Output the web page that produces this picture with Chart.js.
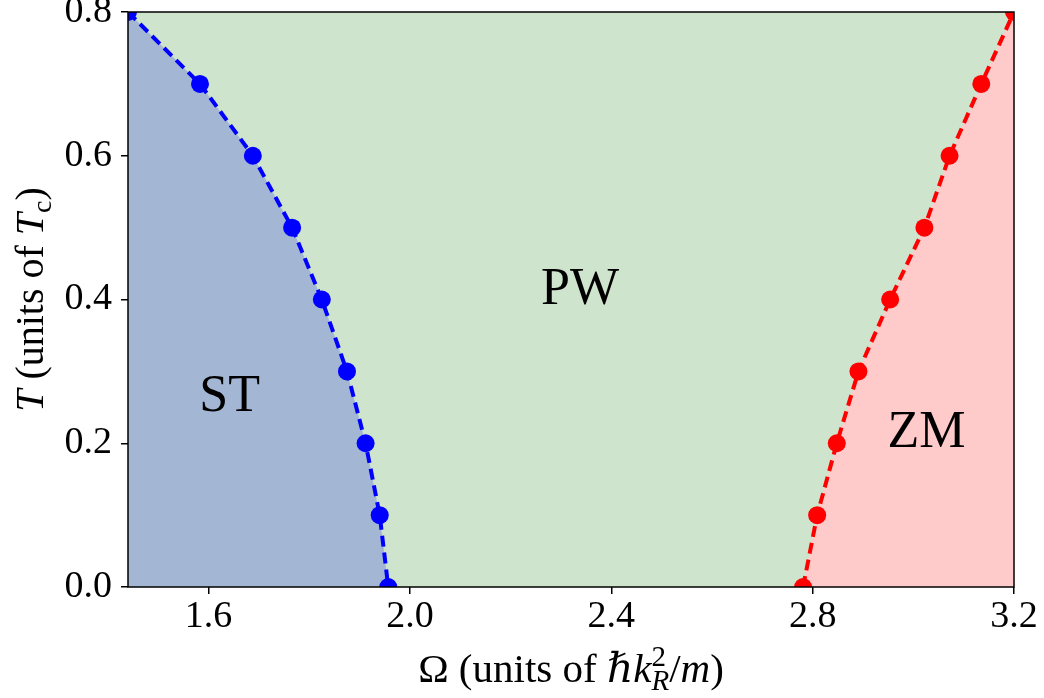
<!DOCTYPE html>
<html>
<head>
<meta charset="utf-8">
<script src="https://cdn.jsdelivr.net/npm/chart.js@4/dist/chart.umd.min.js"></script>
<style>
  html, body { margin: 0; padding: 0; background: #fff; }
  #wrap { width: 1044px; height: 698px; }
</style>
</head>
<body>
<div id="wrap"><canvas id="phaseChart" width="1044" height="698"></canvas></div>
<script>
// phase boundaries
let blueOmega = [1.44, 1.583, 1.688, 1.766, 1.825, 1.875, 1.912, 1.940, 1.957]
let blueT = [0.8, 0.7, 0.6, 0.5, 0.4, 0.3, 0.2, 0.1, 0.0]
let redOmega = [2.781, 2.809, 2.848, 2.891, 2.954, 3.022, 3.072, 3.135, 3.2]
let redT = [0.0, 0.1, 0.2, 0.3, 0.4, 0.5, 0.6, 0.7, 0.8]

let xTicks = [1.6, 2.0, 2.4, 2.8, 3.2]
let yTicks = [0.0, 0.2, 0.4, 0.6, 0.8]

// region labels: text, omega, T
let regionNames = ['ST', 'PW', 'ZM']
let regionOmega = [1.642, 2.338, 3.026]
let regionT = [0.268, 0.418, 0.218]

const FONT = '"Liberation Serif", "DejaVu Serif", serif'
const green = '#cfe4cd'
const blueFill = '#a3b7d5'
const redFill = '#ffcaca'

let toPoints = (xs, ys) => xs.map((x, i) => ({ x: x, y: ys[i] }))

// draws a row of text pieces (italic / sub / sup) centred on x
let drawRich = (ctx, parts, cx, baseY, size) => {
  let small = Math.round(size * 0.7)
  let fontOf = p => (p.italic ? 'italic ' : '') + (p.sub || p.sup ? small : size) + 'px ' + FONT
  let widths = parts.map(p => { ctx.font = fontOf(p); return ctx.measureText(p.t).width })
  let total = 0
  parts.forEach((p, i) => { if (!p.stack) total += widths[i] })
  let x = cx - total / 2
  ctx.textAlign = 'left'
  ctx.textBaseline = 'alphabetic'
  ctx.fillStyle = '#000'
  parts.forEach((p, i) => {
    ctx.font = fontOf(p)
    let dy = p.sub ? size * 0.2 : (p.sup ? -size * 0.38 : 0)
    ctx.fillText(p.t, x, baseY + dy)
    if (!p.stack) x += widths[i]
  })
}

const extras = {
  id: 'extras',
  beforeDatasetsDraw(chart) {
    let { ctx, chartArea: a } = chart
    ctx.save()
    ctx.fillStyle = green
    ctx.fillRect(a.left, a.top, a.right - a.left, a.bottom - a.top)
    ctx.restore()
  },
  afterDatasetsDraw(chart) {
    let { ctx, chartArea: a, scales } = chart
    ctx.save()
    // region names
    ctx.font = '52px ' + FONT
    ctx.fillStyle = '#000'
    ctx.textAlign = 'center'
    ctx.textBaseline = 'alphabetic'
    regionNames.forEach((n, i) => {
      let px = scales.x.getPixelForValue(regionOmega[i])
      let py = scales.y.getPixelForValue(regionT[i])
      ctx.fillText(n, px, py + 17)
    })
    // frame
    ctx.strokeStyle = '#000'
    ctx.lineWidth = 1.5
    ctx.strokeRect(a.left, a.top, a.right - a.left, a.bottom - a.top)
    // axis titles
    drawRich(ctx, [
      { t: 'Ω (units of ' },
      { t: 'ℏk', italic: true },
      { t: '2', sup: true, stack: true },
      { t: 'R', sub: true, italic: true },
      { t: '/' },
      { t: 'm', italic: true },
      { t: ')' }
    ], (a.left + a.right) / 2, 682, 41)
    ctx.translate(43, (a.top + a.bottom) / 2)
    ctx.rotate(-Math.PI / 2)
    drawRich(ctx, [
      { t: 'T', italic: true },
      { t: ' (units of ' },
      { t: 'T', italic: true },
      { t: 'c', sub: true },
      { t: ')' }
    ], 0, 0, 40)
    ctx.restore()
  }
}

let makeSet = (xs, ys, col, fillCol) => ({
  data: toPoints(xs, ys),
  borderColor: col,
  backgroundColor: fillCol,
  pointBackgroundColor: col,
  pointBorderWidth: 0,
  pointRadius: 9,
  borderWidth: 4,
  borderDash: [11, 6],
  tension: 0,
  fill: 'start',
  clip: 0
})

let axisCommon = {
  type: 'linear',
  border: { display: false },
  grid: { drawOnChartArea: false, drawTicks: true, tickLength: 7, color: '#000', lineWidth: 1.5 },
  ticks: { color: '#000', font: { family: FONT, size: 38 }, callback: v => v.toFixed(1) }
}

let createPhaseChart = () => {
  const ctx = document.getElementById('phaseChart').getContext('2d')
  return new Chart(ctx, {
    type: 'line',
    data: {
      datasets: [
        makeSet(blueOmega, blueT, '#0000ff', blueFill),
        makeSet(redOmega, redT, '#ff0000', redFill)
      ]
    },
    options: {
      responsive: false,
      animation: false,
      layout: { padding: { top: 12, right: 30, left: 0, bottom: 0 } },
      plugins: { legend: { display: false }, tooltip: { enabled: false } },
      scales: {
        x: Object.assign({}, axisCommon, {
          min: 1.44, max: 3.2,
          ticks: Object.assign({}, axisCommon.ticks, { padding: 0, maxRotation: 0 }),
          afterBuildTicks: s => { s.ticks = xTicks.map(v => ({ value: v })) },
          afterFit: s => { s.height = 111; s.paddingLeft = 0; s.paddingRight = 0 }
        }),
        y: Object.assign({}, axisCommon, {
          min: 0, max: 0.8,
          ticks: Object.assign({}, axisCommon.ticks, { padding: 9 }),
          afterBuildTicks: s => { s.ticks = yTicks.map(v => ({ value: v })) },
          afterFit: s => { s.width = 128; s.paddingTop = 0; s.paddingBottom = 0 }
        })
      }
    },
    plugins: [extras]
  })
}

let chartInstance = createPhaseChart()
</script>
</body>
</html>
